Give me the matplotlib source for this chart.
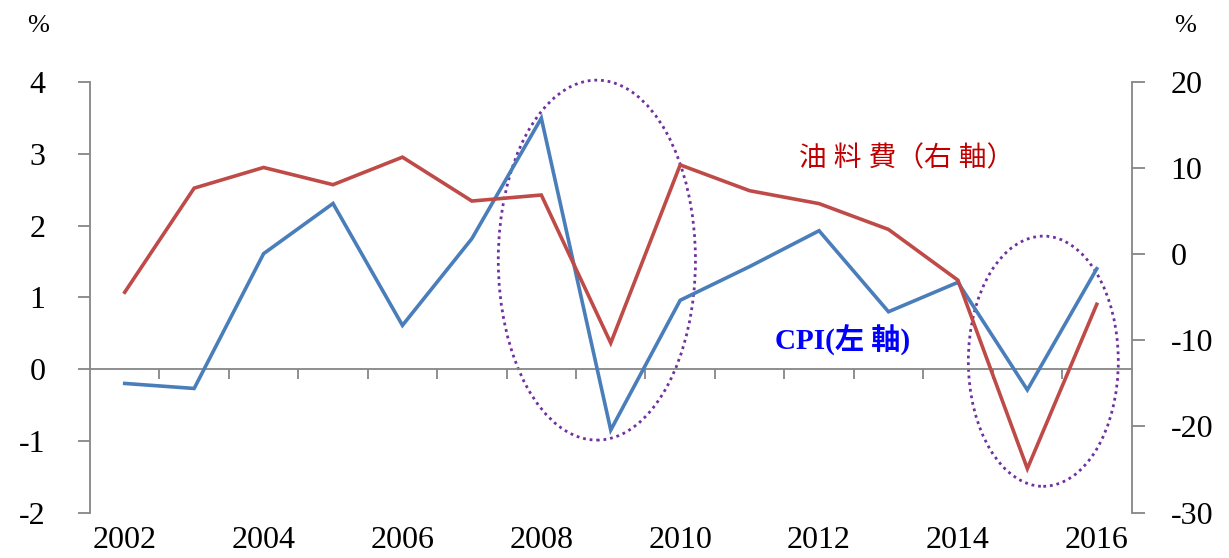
import matplotlib
matplotlib.use("Agg")
import matplotlib.pyplot as plt
from matplotlib.patches import Ellipse

plt.rcParams['axes.unicode_minus'] = False

years = ["2002", "2003", "2004", "2005", "2006", "2007", "2008", "2009",
         "2010", "2011", "2012", "2013", "2014", "2015", "2016"]
cpi = [-0.20, -0.27, 1.61, 2.31, 0.61, 1.82, 3.50, -0.85, 0.96, 1.43,
       1.93, 0.80, 1.21, -0.29, 1.40]
fuel = [-4.4, 7.7, 10.1, 8.1, 11.3, 6.2, 6.9, -10.3, 10.4, 7.4,
        5.9, 2.9, -3.0, -24.9, -5.8]
left_ticks = [-2, -1, 0, 1, 2, 3, 4]
right_ticks = [-30, -20, -10, 0, 10, 20]

GRAY = "#868686"
BLUE = "#4A7EBB"
RED = "#BE4B48"
PURPLE = "#7030A0"
SERIF = ["Liberation Serif", "DejaVu Serif"]
CJK = ["Liberation Serif", "Noto Sans CJK TC", "DejaVu Sans"]

fig = plt.figure(figsize=(12.29, 5.58), dpi=100)
ax = fig.add_axes([90 / 1229, 1 - 512.5 / 558, (1131.5 - 90) / 1229, (512.5 - 82.3) / 558])
ax2 = ax.twinx()

x = list(range(len(years)))
ax.plot(x, cpi, color=BLUE, lw=2.6, solid_joinstyle='miter', zorder=3)
ax2.plot(x, fuel, color=RED, lw=2.6, solid_joinstyle='miter', zorder=3)

ax.set_xlim(-0.5, len(years) - 0.5)
ax.set_ylim(-2, 4)
ax2.set_ylim(-30, 20)

# spines
for a in (ax, ax2):
    a.spines['top'].set_visible(False)
ax.spines['right'].set_visible(False)
ax2.spines['left'].set_visible(False)
ax2.spines['bottom'].set_visible(False)
ax.spines['left'].set_color(GRAY)
ax.spines['left'].set_linewidth(1.3)
ax2.spines['right'].set_color(GRAY)
ax2.spines['right'].set_linewidth(1.3)
ax.spines['bottom'].set_position(('data', 0))
ax.spines['bottom'].set_color(GRAY)
ax.spines['bottom'].set_linewidth(1.3)

# y ticks
ax.set_yticks(left_ticks, [str(v) for v in left_ticks])
ax.tick_params(axis='y', direction='out', length=9, width=1.3, color=GRAY,
               pad=23, labelsize=23)
for t in ax.get_yticklabels():
    t.set_fontfamily(SERIF)
ax2.set_yticks(right_ticks, [str(v) for v in right_ticks])
ax2.tick_params(axis='y', direction='out', length=9, width=1.3, color=GRAY,
                pad=19, labelsize=23)
for t in ax2.get_yticklabels():
    t.set_fontfamily(SERIF)

# x ticks on the zero line at category boundaries
bounds = [i + 0.5 for i in range(len(years) - 1)]
ax.set_xticks(bounds, [""] * len(bounds))
ax.tick_params(axis='x', direction='out', length=7, width=1.3, color=GRAY)

sec = ax.secondary_xaxis(0)
sec.set_xticks(x[::2], years[::2])
sec.tick_params(length=0, pad=10, labelsize=23)
sec.spines['bottom'].set_visible(False)
for t in sec.get_xticklabels():
    t.set_fontfamily(SERIF)

# ellipses
ax.add_patch(Ellipse((6.8, 1.52), 2.84, 5.02, fill=False, ec=PURPLE,
                     lw=2.0, ls=(0, (1, 1.4)), zorder=2, clip_on=False))
ax.add_patch(Ellipse((13.23, 0.11), 2.16, 3.49, fill=False, ec=PURPLE,
                     lw=2.0, ls=(0, (1, 1.4)), zorder=2, clip_on=False))

# unit labels
fig.text(38 / 1229, 1 - 26 / 558, "%", fontsize=19, family=SERIF, ha='center', va='center')
fig.text(1185 / 1229, 1 - 26 / 558, "%", fontsize=19, family=SERIF, ha='center', va='center')

# series labels
fig.text(907 / 1229, 1 - 159 / 558, "油 料 費（右 軸）", fontsize=20, color="#C00000",
         family=CJK, ha='center', va='center')
fig.text(843 / 1229, 1 - 340 / 558, "CPI(左 軸)", fontsize=21, color="#0000FF",
         family=CJK, ha='center', va='center', fontweight='bold')

fig.savefig("out.png", dpi=100)
